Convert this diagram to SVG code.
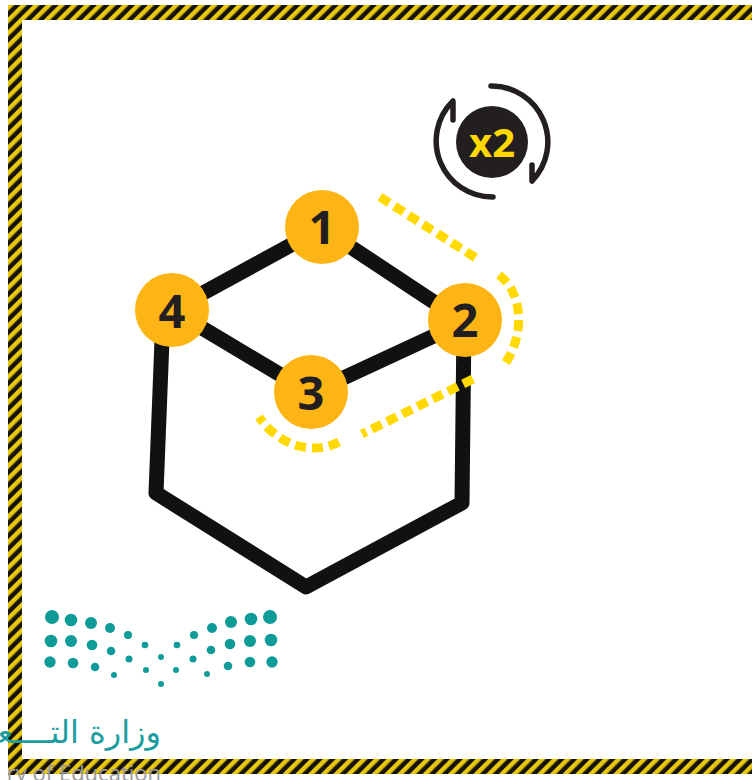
<svg xmlns="http://www.w3.org/2000/svg" width="752" height="780" viewBox="0 0 752 780">
<style>
.edge{fill:none;stroke:#111;stroke-width:15;stroke-linecap:round;stroke-linejoin:round}
.dash{fill:none;stroke:#ffd900;stroke-width:9;stroke-dasharray:11 6}
.badge{fill:#fdb515}
.num{font:bold 47px "Open Sans","Liberation Sans",sans-serif;fill:#231f20;text-anchor:middle}
.dot{fill:#0f9c98}
</style>
<defs>
<pattern id="hazard" width="9" height="9" patternUnits="userSpaceOnUse" patternTransform="rotate(45)">
<rect width="9" height="9" fill="#15130c"/>
<rect width="4.5" height="9" fill="#e8c70f"/>
</pattern>
</defs>
<rect width="752" height="780" fill="#fff"/>
<g id="logo-dots">
<g class="dot">
<circle cx="52" cy="617" r="7"/><circle cx="71" cy="620" r="6.3"/><circle cx="91" cy="623" r="6"/><circle cx="110" cy="628" r="5"/><circle cx="128" cy="635" r="4"/><circle cx="145" cy="645" r="3.3"/><circle cx="177" cy="645" r="3.3"/><circle cx="194" cy="635" r="4"/><circle cx="212" cy="628" r="5"/><circle cx="231" cy="622" r="6"/><circle cx="251" cy="619" r="6.3"/><circle cx="270" cy="617" r="7"/>
<circle cx="51" cy="641" r="6.3"/><circle cx="71" cy="641" r="6"/><circle cx="92" cy="645" r="5.3"/><circle cx="111" cy="651" r="4.3"/><circle cx="129" cy="659" r="3.5"/><circle cx="161" cy="657" r="3"/><circle cx="193" cy="659" r="3.5"/><circle cx="211" cy="650" r="4.3"/><circle cx="230" cy="644" r="5.3"/><circle cx="250" cy="641" r="6"/><circle cx="271" cy="640" r="6.3"/>
<circle cx="50" cy="662" r="5.7"/><circle cx="73" cy="663" r="5.3"/><circle cx="95" cy="667" r="4.3"/><circle cx="114" cy="675" r="3"/><circle cx="146" cy="670" r="3"/><circle cx="176" cy="670" r="3"/><circle cx="207" cy="674" r="3"/><circle cx="228" cy="666" r="4.3"/><circle cx="250" cy="662" r="5.3"/><circle cx="272" cy="662" r="5.7"/><circle cx="161" cy="684" r="3"/>
</g>
</g>
<g id="border" fill="url(#hazard)">
<rect x="8" y="5" width="744" height="15"/>
<rect x="8" y="5" width="14" height="770"/>
<rect x="8" y="759" width="744" height="15"/>
</g>
<g id="logo-text">
<text x="161" y="743" text-anchor="start" font-family="DejaVu Sans, sans-serif" font-size="32" fill="#1c9d9f" direction="rtl">وزارة التــــعـ</text>
<text x="161" y="781" text-anchor="end" font-family="Open Sans, sans-serif" font-size="22" fill="#9a9a9a">ry of Education</text>
</g>
<g id="connectors">
<path class="edge" d="M322 228L172 310L311 393L464 322L322 228"/>
<path class="edge" d="M162 340L156 493L306 587L462 503L464 322"/>
<path class="dash" d="M380 197L476 258"/>
<path class="dash" d="M499 275C522 292 526 332 505 364"/>
<path class="dash" d="M473 379L362 434"/>
<path class="dash" d="M339 442C312 456 278 445 259 417"/>
</g>
<g id="node-1"><circle class="badge" cx="322" cy="227" r="37"/><text class="num" x="322" y="244">1</text></g>
<g id="node-2"><circle class="badge" cx="465" cy="320" r="37"/><text class="num" x="465" y="337">2</text></g>
<g id="node-3"><circle class="badge" cx="311" cy="392" r="37"/><text class="num" x="311" y="410">3</text></g>
<g id="node-4"><circle class="badge" cx="172" cy="310" r="37"/><text class="num" x="172" y="328">4</text></g>
<g id="repeat">
<path fill="none" stroke="#231f20" stroke-width="5.5" stroke-linecap="round" stroke-linejoin="round" d="M491 86A56 56 0 0 1 532 181L532 165M493 197A56 56 0 0 1 453 101L453 120"/>
<circle cx="492" cy="142" r="36" fill="#231f20"/>
<text x="492" y="157" font-family="Open Sans, Liberation Sans, sans-serif" font-weight="bold" font-size="40" fill="#ffd900" text-anchor="middle">x2</text>
</g>
</svg>
